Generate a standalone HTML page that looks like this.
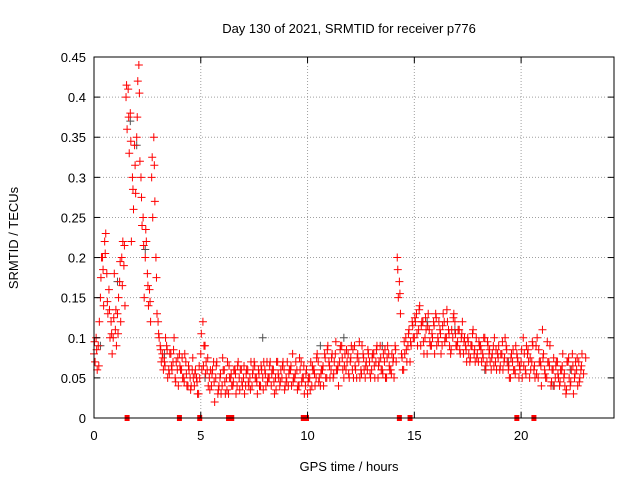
<!DOCTYPE html>
<html><head><meta charset="utf-8"><style>
body{margin:0;background:#fff}
svg text{font-family:"Liberation Sans",sans-serif;font-size:13px;fill:#000}
</style></head><body>
<svg id="chart" width="640" height="480" xmlns="http://www.w3.org/2000/svg">
<rect width="640" height="480" fill="#fff"/>
<text x="349" y="33" text-anchor="middle">Day 130 of 2021, SRMTID for receiver p776</text>
<text transform="translate(18,238) rotate(-90)" text-anchor="middle">SRMTID / TECUs</text>
<text x="349" y="471" text-anchor="middle">GPS time / hours</text>
<g id="grid"></g><g id="marks"></g><g id="axes"></g>
</svg>
<script>
const xTicks=[0,5,10,15,20];
const yTicks=[0,0.05,0.1,0.15,0.2,0.25,0.3,0.35,0.4,0.45];
const yTickLabels=["0","0.05","0.1","0.15","0.2","0.25","0.3","0.35","0.4","0.45"];
const sampleStep=0.1;
const seriesA=[.08,.1,.09,.15,.2,.22,.18,.16,.12,.1,.11,.13,.17,.2,.19,.4,.41,.38,.3,.34,.35,.44,.3,.25,.2,.18,.16,.3,.35,.2,.12,.09,.08,.07,.09,.06,.08,.07,.05,.06,.08,.06,.05,.07,.04,.05,.06,.04,.05,.03,.08,.12,.09,.06,.05,.04,.07,.05,.03,.05,.04,.06,.05,.03,.05,.04,.06,.04,.05,.06,.05,.04,.06,.05,.04,.07,.05,.06,.04,.05,.06,.07,.05,.04,.06,.05,.07,.04,.05,.06,.05,.04,.06,.08,.05,.06,.04,.07,.05,.04,.03,.05,.04,.06,.05,.07,.04,.06,.08,.05,.07,.06,.05,.08,.06,.07,.09,.05,.06,.08,.07,.06,.09,.05,.07,.06,.08,.05,.06,.07,.06,.08,.07,.05,.09,.06,.07,.05,.08,.06,.07,.09,.2,.17,.08,.06,.1,.09,.07,.12,.1,.13,.11,.09,.12,.1,.08,.11,.09,.12,.13,.1,.11,.09,.12,.1,.11,.08,.1,.12,.09,.11,.1,.08,.09,.1,.07,.09,.08,.1,.07,.09,.08,.1,.07,.08,.06,.09,.07,.08,.06,.08,.07,.09,.06,.05,.07,.06,.08,.05,.07,.1,.06,.08,.05,.07,.06,.09,.05,.07,.11,.06,.05,.07,.04,.06,.05,.07,.04,.06,.05,.03,.07,.04,.08,.05,.06,.07,.06];
const seriesB=[.07,.06,.12,.2,.14,.23,.13,.1,.08,.18,.09,.15,.12,.22,.14,.36,.33,.22,.26,.28,.42,.32,.24,.15,.22,.14,.12,.25,.27,.13,.1,.07,.06,.1,.05,.08,.06,.1,.07,.04,.06,.05,.08,.04,.06,.04,.05,.06,.03,.05,.06,.09,.07,.04,.06,.06,.02,.07,.04,.03,.06,.03,.07,.05,.04,.06,.03,.07,.06,.04,.03,.06,.04,.07,.06,.05,.03,.04,.06,.07,.04,.05,.07,.06,.03,.07,.05,.06,.07,.04,.07,.06,.04,.05,.07,.04,.06,.05,.03,.06,.05,.07,.06,.04,.08,.05,.06,.04,.05,.09,.05,.08,.07,.06,.04,.09,.06,.08,.07,.05,.09,.05,.06,.08,.05,.09,.06,.07,.08,.05,.08,.05,.09,.07,.06,.08,.05,.09,.06,.08,.05,.07,.15,.13,.06,.08,.07,.11,.09,.1,.12,.09,.14,.12,.08,.11,.13,.09,.1,.08,.09,.12,.08,.13,.1,.12,.09,.11,.13,.09,.11,.08,.12,.1,.07,.08,.09,.11,.07,.08,.09,.07,.1,.06,.09,.07,.08,.1,.06,.09,.08,.06,.1,.07,.05,.08,.06,.09,.07,.06,.05,.08,.09,.07,.06,.09,.05,.1,.07,.04,.08,.05,.07,.09,.06,.04,.07,.05,.06,.08,.04,.07,.05,.06,.03,.07,.04,.05,.08];
const seriesC=[.095,.085,.065,.175,.185,.205,.145,.135,.105,.125,.135,.105,.195,.165,.215,.415,.375,.345,.285,.315,.375,.405,.275,.215,.235,.165,.145,.325,.315,.175,.105,.085,.075,.065,.085,.055,.065,.085,.045,.075,.065,.075,.045,.055,.065,.035,.075,.055,.045,.065,.105,.065,.055,.075,.035,.055,.045,.065,.035,.055,.075,.045,.035,.065,.055,.045,.055,.065,.035,.045,.065,.055,.045,.035,.055,.065,.045,.055,.065,.035,.055,.045,.065,.055,.045,.035,.055,.045,.065,.035,.045,.055,.065,.045,.055,.035,.075,.045,.065,.055,.045,.035,.065,.055,.075,.045,.055,.065,.075,.085,.065,.075,.055,.095,.065,.085,.075,.065,.085,.055,.075,.085,.065,.075,.095,.055,.075,.065,.085,.055,.075,.065,.085,.065,.075,.055,.085,.075,.065,.055,.075,.085,.185,.155,.075,.095,.085,.105,.095,.115,.125,.105,.135,.115,.095,.125,.115,.095,.105,.115,.125,.095,.105,.115,.095,.135,.105,.085,.125,.105,.095,.085,.105,.095,.085,.095,.075,.105,.085,.075,.095,.085,.075,.065,.095,.085,.075,.065,.085,.075,.065,.095,.075,.085,.065,.075,.085,.055,.075,.065,.085,.065,.055,.085,.075,.095,.065,.055,.085,.065,.075,.055,.095,.065,.045,.075,.065,.055,.045,.065,.055,.035,.075,.045,.065,.055,.075,.045,.065,.055,.075];
const grayTimes=[0.3,1.1,1.7,2.0,2.4,3.3,5.2,7.9,10.6,11.7,13.5,15.6,16.9,18.3,19.4,21.5,22.3];
const grayValues=[0.09,0.17,0.37,0.34,0.21,0.08,0.05,0.1,0.09,0.1,0.09,0.12,0.11,0.06,0.07,0.04,0.06];
const gapTimes=[1.55,4.0,4.95,6.3,6.45,9.8,9.95,14.3,14.8,19.8,20.6];
const X0=94,X1=614,Y0=418,Y1=57,XMAX=24.35,YMAX=0.45;
const xs=t=>X0+(t/XMAX)*(X1-X0);
const ys=v=>Y0-(v/YMAX)*(Y0-Y1);
const NS="http://www.w3.org/2000/svg";
function mk(tag,attrs,parent){const e=document.createElementNS(NS,tag);for(const k in attrs)e.setAttribute(k,attrs[k]);parent.appendChild(e);return e;}
const grid=document.getElementById('grid'),marks=document.getElementById('marks'),axes=document.getElementById('axes');
yTicks.forEach((v,i)=>{
  if(i>0&&i<yTicks.length-1){const g=mk('line',{x1:X0,x2:X1,y1:ys(v),y2:ys(v),stroke:'#a0a0a0','stroke-dasharray':'1,2'},grid);
  
  }
  const t=mk('text',{x:X0-8,y:ys(v)+5,'text-anchor':'end'},axes);t.textContent=yTickLabels[i];
  
  
  mk('line',{x1:X0,x2:X0+6,y1:ys(v),y2:ys(v),stroke:'#000'},axes);
  mk('line',{x1:X1,x2:X1-6,y1:ys(v),y2:ys(v),stroke:'#000'},axes);
});
xTicks.forEach((v,i)=>{
  if(i>0){const g=mk('line',{x1:xs(v),x2:xs(v),y1:Y0,y2:Y1,stroke:'#a0a0a0','stroke-dasharray':'1,2'},grid);
  
  }
  const t=mk('text',{x:xs(v),y:Y0+22,'text-anchor':'middle'},axes);t.textContent=String(v);
  
  
  mk('line',{x1:xs(v),x2:xs(v),y1:Y0,y2:Y0-6,stroke:'#000'},axes);
  mk('line',{x1:xs(v),x2:xs(v),y1:Y1,y2:Y1+6,stroke:'#000'},axes);
});
const frame=mk('rect',{x:X0,y:Y1,width:X1-X0,height:Y0-Y1,fill:'none',stroke:'#000'},axes);


function plus(t,v,color,name){
  const x=xs(t),y=ys(v);
  const p=mk('path',{d:`M${x-4},${y}H${x+4}M${x},${y-4}V${y+4}`,stroke:color,'stroke-width':1,fill:'none'},marks);
  
  
}
grayTimes.forEach((t,i)=>plus(t,grayValues[i],'#505050','gray-point'));
seriesA.forEach((v,i)=>plus(i*sampleStep,v,'#ff0000','red-point'));
seriesB.forEach((v,i)=>plus(i*sampleStep+0.05,v,'#ff0000','red-point'));
seriesC.forEach((v,i)=>plus(i*sampleStep+0.025,v,'#ff0000','red-point'));
gapTimes.forEach(t=>{
  const r=mk('rect',{x:xs(t)-2.5,y:Y0-3,width:5,height:6,fill:'#ff0000'},marks);
  
  
});
</script>
</body></html>
